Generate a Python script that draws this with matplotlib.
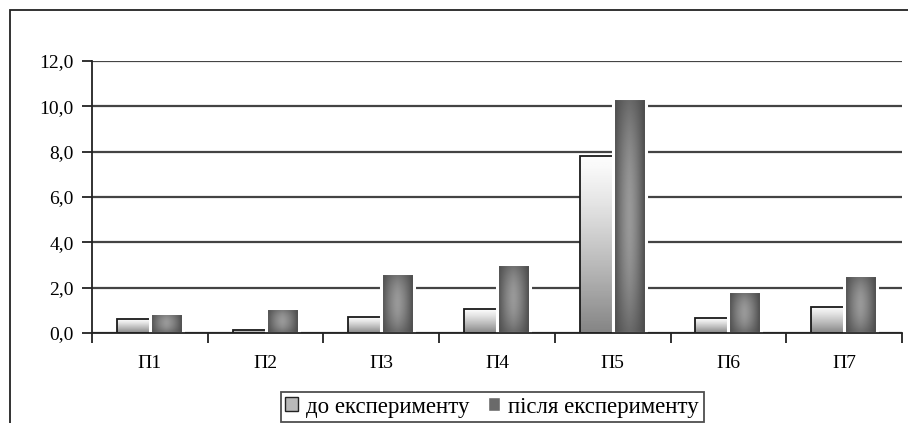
import numpy as np
import matplotlib
matplotlib.use("Agg")
import matplotlib.pyplot as plt
from matplotlib.patches import Rectangle, Patch

# дані
categories = ["П1", "П2", "П3", "П4", "П5", "П6", "П7"]
before = [0.6, 0.15, 0.7, 1.05, 7.8, 0.65, 1.15]
after = [0.9, 1.1, 2.65, 3.05, 10.35, 1.85, 2.55]
series_labels = ["до експерименту", "після експерименту"]
y_ticks = [0, 2, 4, 6, 8, 10, 12]

plt.rcParams['font.family'] = 'serif'
plt.rcParams['font.serif'] = ['Liberation Serif', 'DejaVu Serif']

W, H = 908, 423
fig = plt.figure(figsize=(W / 100, H / 100), dpi=100)
ax = fig.add_axes([92 / W, 1 - 333 / H, (902 - 92) / W, (333 - 61) / H])

# зовнішня рамка
fig.patches.append(Rectangle((10 / W, -0.1), 1.2, 1 - 10 / H + 0.1,
                             transform=fig.transFigure, fill=False,
                             edgecolor='#222222', linewidth=1.3, zorder=0))

x = np.arange(len(categories))
bw = 0.285

# градієнти
ny, nx = 100, 60
u = np.linspace(0, 1, nx)
v = np.linspace(0, 1, ny)[:, None]
grad_before = np.repeat((0.99 - 0.47 * (1 - v) ** 1.2), nx, axis=1)  # зверху світло
hx = 1 - np.abs(2 * u - 1) ** 1.5
vy = 1 - np.abs(2 * v - 1.0) ** 2
grad_after = 0.28 + 0.32 * hx[None, :] * (0.4 + 0.6 * vy)

def draw_bars(xs, vals, grad, edge, lw):
    bars = ax.bar(xs, vals, bw, facecolor='none', edgecolor=edge,
                  linewidth=lw, zorder=4)
    for b in bars:
        x0, y0 = b.get_x(), b.get_y()
        w, h = b.get_width(), b.get_height()
        im = ax.imshow(grad, extent=[x0, x0 + w, y0, y0 + h], origin='lower',
                       aspect='auto', cmap='gray', vmin=0, vmax=1,
                       interpolation='bilinear', zorder=3)
        im.set_clip_path(b)
    return bars

draw_bars(x - bw / 2, before, grad_before, '#1a1a1a', 1.3)
draw_bars(x + bw / 2, after, grad_after, 'white', 2.2)

ax.set_xlim(-0.5, len(categories) - 0.5)
ax.set_ylim(0, 12)
ax.set_yticks(y_ticks)
ax.set_yticklabels([f"{t:.1f}".replace('.', ',') for t in y_ticks], fontsize=14)
ax.set_xticks(x)
ax.set_xticklabels(categories, fontsize=14)
ax.set_xticks(np.arange(len(categories) + 1) - 0.5, minor=True)
ax.tick_params(axis='x', which='major', length=0, pad=16)
ax.tick_params(axis='x', which='minor', length=7, width=1.3, direction='out', color='#222222')
ax.tick_params(axis='y', length=7, width=1.3, direction='out', color='#222222', pad=6)

ax.yaxis.grid(True, color='#444444', linewidth=1.6, zorder=1)
ax.set_axisbelow(True)
for s in ['top', 'right']:
    ax.spines[s].set_visible(False)
for s in ['left', 'bottom']:
    ax.spines[s].set_color('#222222')
    ax.spines[s].set_linewidth(1.3)
ax.spines['bottom'].set_zorder(5)

handles = [Patch(facecolor='#b8b8b8', edgecolor='#222222'),
           Patch(facecolor='#6a6a6a', edgecolor='white')]
leg = fig.legend(handles, series_labels, loc='center', ncol=2,
                 bbox_to_anchor=(492 / W, 1 - 407 / H), fontsize=16.5,
                 frameon=True, fancybox=False, handlelength=0.55,
                 handleheight=0.55, handletextpad=0.35, columnspacing=0.8,
                 borderpad=0.2)
leg.get_frame().set_edgecolor('#222222')
leg.get_frame().set_linewidth(1.3)

fig.savefig("out.png", dpi=100)
